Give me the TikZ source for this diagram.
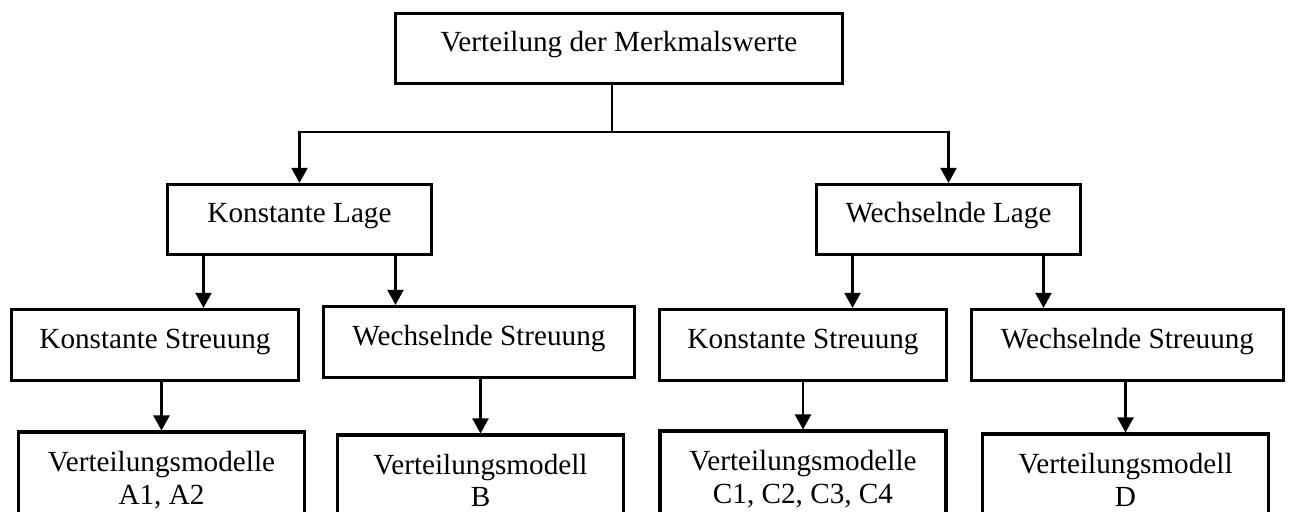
\documentclass[tikz,border=0pt]{standalone}
\usepackage{fontspec}
\setmainfont{Liberation Serif}
\usepackage{tikz}
\usetikzlibrary{arrows.meta,positioning}

\tikzset{
  box/.style={draw,rectangle,line width=1.6pt,inner sep=0pt,minimum height=35.5pt,
    font=\fontsize{14.6pt}{16.5pt}\selectfont,text height=9.67pt,text depth=6.5pt},
  modbox/.style={draw,rectangle,line width=1.6pt,anchor=north,align=center,
    minimum width=143pt,inner xsep=0pt,inner ysep=9.75pt,
    font=\fontsize{14.6pt}{16.5pt}\selectfont,text height=26.2pt,text depth=30pt},
  arr/.style={line width=1.1pt,-{Triangle[length=7.5pt,width=8pt]}}
}

\begin{document}
\begin{tikzpicture}[x=0.5pt,y=-0.5pt]
  \useasboundingbox (0,0) rectangle (1289,512);
  \clip (0,0) rectangle (1289,512);
  \node[box,minimum width=223.5pt,minimum height=35pt] (top) at (619,48.3) {Verteilung der Merkmalswerte};
  \node[box,minimum width=132pt,minimum height=35pt] (kl) at (299.5,219.5) {Konstante Lage};
  \node[box,minimum width=132pt,minimum height=35pt] (wl) at (948.5,219.5) {Wechselnde Lage};
  \node[box,minimum width=143.5pt] (ks1) at (155,345) {Konstante Streuung};
  \node[box,minimum width=155.5pt] (ws1) at (479,342) {Wechselnde Streuung};
  \node[box,minimum width=143.5pt] (ks2) at (803,345) {Konstante Streuung};
  \node[box,minimum width=156pt] (ws2) at (1127.5,345) {Wechselnde Streuung};
  \node[modbox] (a) at (161.5,430.5) {Verteilungsmodelle\\A1, A2};
  \node[modbox] (b) at (480.5,433.5) {Verteilungsmodell\\B};
  \node[modbox] (c) at (803,429.5) {Verteilungsmodelle\\C1, C2, C3, C4};
  \node[modbox] (d) at (1125.5,432.5) {Verteilungsmodell\\D};
  \coordinate (j) at (612,132);
  \draw[line width=1.1pt] (top.south -| j) -- (j);
  \draw[arr] (j) -| (kl);
  \draw[arr] (j) -| (wl);
  \path[arr]
    ([xshift=-48pt]kl.south) edge ([xshift=-48pt]kl.south |- ks1.north)
    ([xshift=48pt]kl.south) edge ([xshift=48pt]kl.south |- ws1.north)
    ([xshift=-48pt]wl.south) edge ([xshift=-48pt]wl.south |- ks2.north)
    ([xshift=47.5pt]wl.south) edge ([xshift=47.5pt]wl.south |- ws2.north)
    (ks1.south -| a) edge (a)
    (ws1.south -| b) edge (b)
    (ks2.south -| c) edge (c)
    (ws2.south -| d) edge (d);
\end{tikzpicture}
\end{document}
